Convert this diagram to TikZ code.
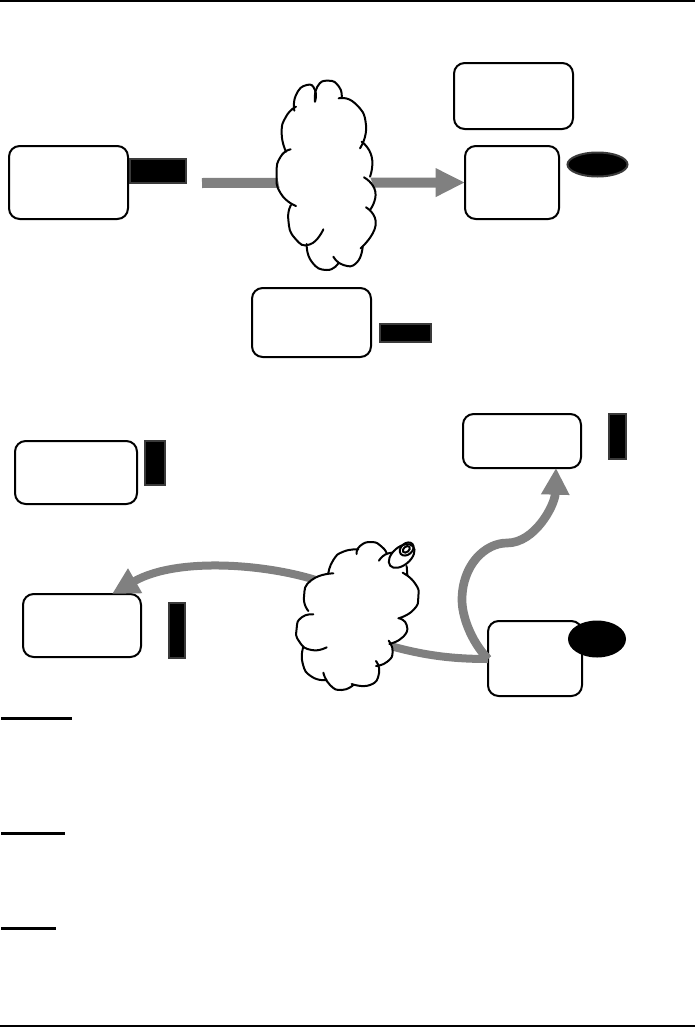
\documentclass[tikz,border=0pt]{standalone}
\usetikzlibrary{arrows.meta,shapes.geometric}
\definecolor{flow}{HTML}{808080}
\definecolor{edgegray}{HTML}{3A3A3A}
\tikzset{
  x=0.75pt,y=-0.75pt,
  roundbox/.style={draw=black,fill=white,line width=1.5pt,rounded corners=8pt,inner sep=0pt,outer sep=0pt,anchor=north west},
  blackbar/.style={draw=edgegray,fill=black,line width=1.5pt,inner sep=0pt,outer sep=0pt,anchor=north west},
  blackoval/.style={ellipse,draw=edgegray,fill=black,line width=1.5pt,inner sep=0pt,outer sep=0pt},
  flowline/.style={draw=flow,line width=7.5pt},
  bighead/.style={-{Triangle[length=20pt,width=20pt]}},
  lobe/.style={draw=black,line width=1.5pt,line cap=round},
  rulebar/.style={fill=black,draw=none,inner sep=0pt,outer sep=0pt,anchor=north west},
}
\newcommand{\bx}[6]{\node[#1,minimum width=#5*0.75pt,minimum height=#6*0.75pt] (#2) at (#3,#4) {};}
\newcommand{\lb}[1]{\draw[lobe] plot[smooth,tension=1] coordinates {#1};}
\begin{document}
\begin{tikzpicture}
\path[use as bounding box] (0,0) rectangle (695,1028);
\fill[white] (0,0) rectangle (695,1028);
% page rules
\bx{rulebar}{ruletop}{0}{0}{695}{1.5}
\bx{rulebar}{rulebot}{0}{1025}{695}{2}
\bx{rulebar}{ulone}{1}{717}{71}{3}
\bx{rulebar}{ultwo}{1}{832}{64}{3}
\bx{rulebar}{ulthree}{1}{927}{55}{3}
% boxes
\bx{roundbox}{ba}{9}{146}{119}{73}
\bx{roundbox}{bb}{454}{63}{119}{66}
\bx{roundbox}{bc}{465}{146}{94}{73}
\bx{roundbox}{bd}{252}{288}{119}{69}
\bx{roundbox}{be}{15}{441}{122}{63}
\bx{roundbox}{bf}{463}{414}{118}{54}
\bx{roundbox}{bg}{23}{594}{118}{63}
\bx{roundbox}{bh}{488}{621}{94}{75}
% black bars
\bx{blackbar}{ra}{130}{159}{56}{24}
\bx{blackbar}{rb}{380}{324}{51}{18}
\bx{blackbar}{rc}{145}{441}{20}{44}
\bx{blackbar}{rd}{609}{414}{17}{45}
\bx{blackbar}{re}{169}{603}{16}{55}
% ovals
\node[blackoval,minimum width=60*0.75pt,minimum height=24*0.75pt] (oa) at (597.5,164.5) {};
\node[ellipse,fill=black,inner sep=0pt,minimum width=58*0.75pt,minimum height=37*0.75pt] (ob) at (597,639) {};
% flow anchors
\coordinate (cloudin) at (380,643);
\coordinate (cloudout) at (330,585);
\coordinate (jn) at (488,659);
\coordinate (stc) at (202,183);
% flows
\draw[flowline,-{Triangle[length=22pt,width=20pt]}] (stc) -- (bc.west);
\draw[flowline,line width=6pt] (cloudin) .. controls (420,655) and (450,659) .. (jn);
\draw[flowline,line width=6.5pt,bighead] (jn) .. controls (470,640) and (462,615) .. (462,600)
  .. controls (462,565) and (485,543) .. (507,543)
  .. controls (535,543) and (555,505) .. (bf.south -| 556,0);
\draw[flowline,line width=6pt,bighead] (cloudout) .. controls (280,565) and (180,555) .. (bg.north -| 112,0);
% cloud one
\begin{scope}[shift={(260,70)},x=0.25pt,y=-0.25pt]
\fill[white] (103,122)--(140,45)--(165,80)--(205,32)--(245,82)--(285,100)--(318,165)--(305,215)--(335,260)--(330,320)--(346,365)--(330,420)--(347,465)--(302,535)--(290,578)--(250,585)--(225,565)--(200,600)--(155,575)--(140,522)--(105,505)--(85,450)--(93,405)--(62,370)--(50,310)--(62,260)--(85,240)--(65,190)--(78,140)--cycle;
\lb{(103,122)(108,75)(140,45)(165,60)(165,95)}
\lb{(165,95)(172,50)(205,32)(237,50)(245,82)}
\lb{(236,85)(285,100)(318,165)(300,235)}
\lb{(305,215)(335,260)(330,320)}
\lb{(312,322)(346,365)(330,420)}
\lb{(318,412)(347,465)(302,535)}
\lb{(308,530)(290,578)(250,585)(220,560)}
\lb{(235,580)(200,600)(155,575)(140,522)}
\lb{(190,478)(150,523)(105,505)(85,450)(93,405)}
\lb{(108,408)(62,370)(50,310)(62,260)(92,238)}
\lb{(78,245)(65,190)(78,140)(108,110)}
\end{scope}
% cloud two
\begin{scope}[shift={(280,530)},x=0.25pt,y=-0.25pt]
\fill[white] (145,130)--(160,90)--(190,65)--(235,58)--(275,36)--(305,50)--(320,70)--(380,108)--(405,160)--(415,200)--(400,240)--(370,265)--(380,285)--(370,320)--(332,342)--(338,365)--(322,395)--(292,408)--(297,430)--(270,465)--(215,462)--(185,480)--(150,465)--(130,445)--(95,440)--(68,400)--(70,352)--(58,335)--(50,295)--(65,262)--(85,245)--(72,200)--(95,150)--cycle;
\lb{(145,130)(160,90)(190,65)(235,58)}
\lb{(230,72)(240,48)(275,36)(305,50)(320,70)}
\lb{(297,92)(315,74)(340,68)}
\lb{(380,108)(382,135)}
\lb{(368,128)(405,160)(415,200)(400,240)(355,265)}
\lb{(358,265)(380,285)(370,320)(328,342)}
\lb{(326,332)(338,365)(322,395)(288,408)}
\lb{(288,393)(297,430)(270,465)(215,462)}
\lb{(220,465)(185,480)(150,465)(130,428)}
\lb{(140,450)(95,440)(68,400)(70,350)}
\lb{(140,352)(95,360)(58,335)(50,295)(65,262)(100,253)}
\lb{(85,243)(72,200)(95,150)(160,130)}
\draw[lobe,fill=white,rotate around={40:(365,78)}] (365,78) ellipse [x radius=45,y radius=27];
\draw[lobe,rotate around={40:(380,57)}] (380,57) ellipse [x radius=23,y radius=17];
\draw[lobe,rotate around={40:(379,58)}] (379,58) ellipse [x radius=12,y radius=8];
\end{scope}
\end{tikzpicture}
\end{document}
